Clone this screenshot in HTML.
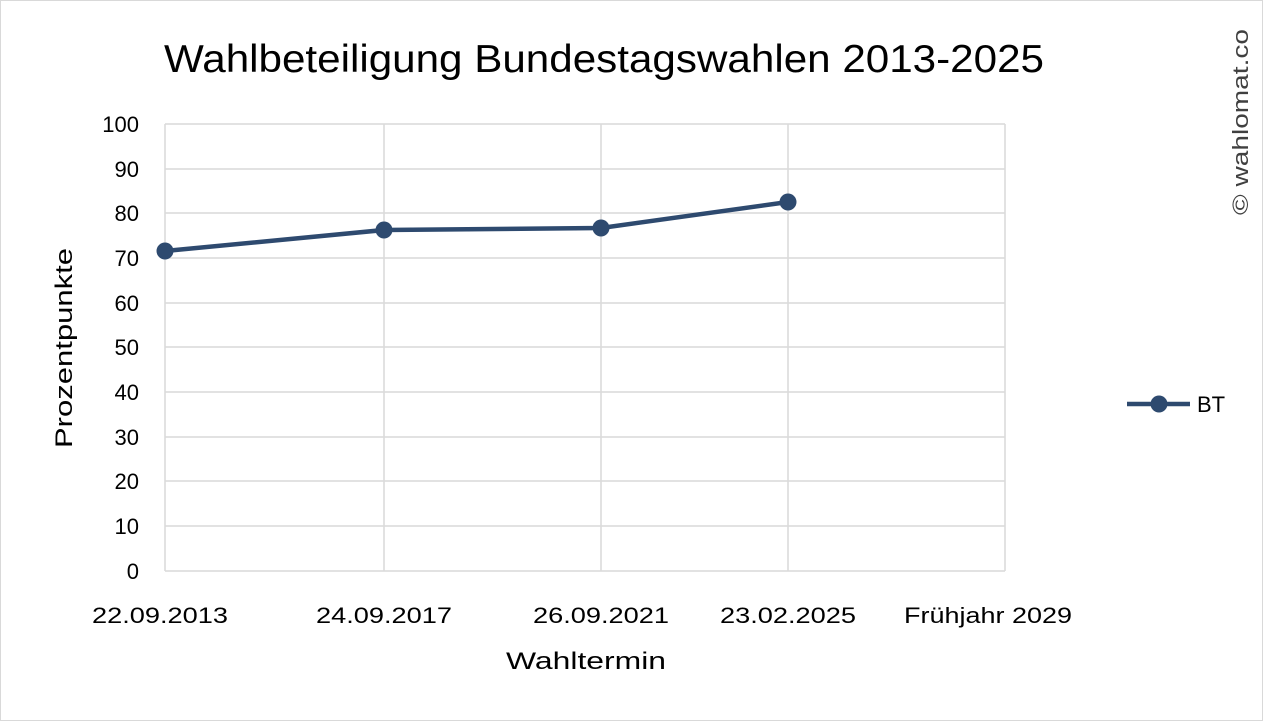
<!DOCTYPE html>
<html><head><meta charset="utf-8"><style>
html,body{margin:0;padding:0;background:#fff;}
svg{display:block;}
text{font-family:"Liberation Sans",sans-serif;fill:#000;}
</style></head><body>
<svg width="1263" height="721" viewBox="0 0 1263 721">
<rect x="0.5" y="0.5" width="1262" height="720" fill="#fff" stroke="#d9d9d9"/>
<g stroke="#d9d9d9" stroke-width="1.5">
<line x1="165" y1="124" x2="1005" y2="124"/>
<line x1="165" y1="169" x2="1005" y2="169"/>
<line x1="165" y1="213" x2="1005" y2="213"/>
<line x1="165" y1="258" x2="1005" y2="258"/>
<line x1="165" y1="303" x2="1005" y2="303"/>
<line x1="165" y1="347" x2="1005" y2="347"/>
<line x1="165" y1="392" x2="1005" y2="392"/>
<line x1="165" y1="437" x2="1005" y2="437"/>
<line x1="165" y1="481" x2="1005" y2="481"/>
<line x1="165" y1="526" x2="1005" y2="526"/>
<line x1="165" y1="571" x2="1005" y2="571"/>
<line x1="165" y1="124" x2="165" y2="571"/>
<line x1="384" y1="124" x2="384" y2="571"/>
<line x1="601" y1="124" x2="601" y2="571"/>
<line x1="788" y1="124" x2="788" y2="571"/>
<line x1="1005" y1="124" x2="1005" y2="571"/>
</g>
<text x="604" y="72" font-size="39" text-anchor="middle" textLength="880" lengthAdjust="spacingAndGlyphs">Wahlbeteiligung Bundestagswahlen 2013-2025</text>
<g font-size="22" text-anchor="end">
<text x="139" y="132">100</text><text x="139" y="177">90</text><text x="139" y="221">80</text>
<text x="139" y="266">70</text><text x="139" y="311">60</text><text x="139" y="355">50</text>
<text x="139" y="400">40</text><text x="139" y="445">30</text><text x="139" y="489">20</text>
<text x="139" y="534">10</text><text x="139" y="579">0</text>
</g>
<g font-size="22" text-anchor="middle">
<text x="160" y="623" textLength="136" lengthAdjust="spacingAndGlyphs">22.09.2013</text>
<text x="384" y="623" textLength="136" lengthAdjust="spacingAndGlyphs">24.09.2017</text>
<text x="601" y="623" textLength="136" lengthAdjust="spacingAndGlyphs">26.09.2021</text>
<text x="788" y="623" textLength="136" lengthAdjust="spacingAndGlyphs">23.02.2025</text>
<text x="988" y="623" textLength="168" lengthAdjust="spacingAndGlyphs">Frühjahr 2029</text>
<text x="586" y="669" font-size="24" textLength="160" lengthAdjust="spacingAndGlyphs">Wahltermin</text>
</g>
<text transform="translate(72,348) rotate(-90)" font-size="24" text-anchor="middle" textLength="200" lengthAdjust="spacingAndGlyphs">Prozentpunkte</text>
<polyline points="165,251 384,230 601,228 788,202" fill="none" stroke="#2e4a6f" stroke-width="4.5" stroke-linejoin="round"/>
<g fill="#2e4a6f">
<circle cx="165" cy="251" r="8.5"/><circle cx="384" cy="230" r="8.5"/>
<circle cx="601" cy="228" r="8.5"/><circle cx="788" cy="202" r="8.5"/>
<line x1="1127" y1="404" x2="1190" y2="404" stroke="#2e4a6f" stroke-width="4.5"/>
<circle cx="1159" cy="404" r="8.5"/>
</g>
<text x="1197" y="412" font-size="22">BT</text>
<text transform="translate(1248,122) rotate(-90)" font-size="22" text-anchor="middle" fill="#404040" style="fill:#404040" textLength="186" lengthAdjust="spacingAndGlyphs">© wahlomat.co</text>
</svg>
</body></html>
